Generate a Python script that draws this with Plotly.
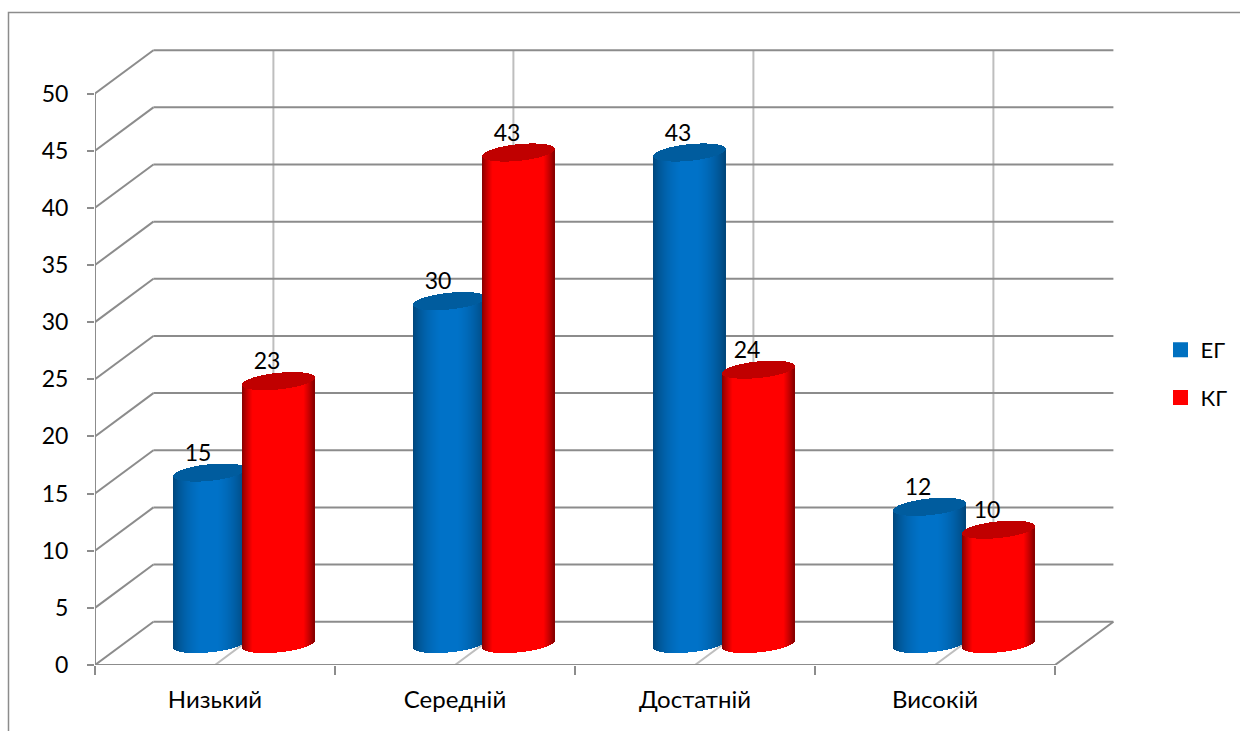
import math
import plotly.graph_objects as go

categories = ["Низький", "Середній", "Достатній", "Високій"]
eg_values = [15, 30, 43, 12]
kg_values = [23, 43, 24, 10]
y_ticks = [0, 5, 10, 15, 20, 25, 30, 35, 40, 45, 50]
series_names = ["ЕГ", "КГ"]

FONT = "Lato, Carlito, 'Noto Sans', sans-serif"
W, H = 1240, 731
L, R, T, B = 95, 1240, 49, 665      # plot box in pixels
PX_X = 240.0                        # pixels per category
PX_Y = 11.43                        # pixels per value unit
WALL_X, WALL_Y = 58.4 / PX_X, 43.3 / PX_Y
x_range = [-0.5, -0.5 + (R - L) / PX_X]
y_range = [0, (B - T) / PX_Y]

MID_X, MID_Y = 29.0 / PX_X, 21.0 / PX_Y     # cylinders sit half way into the floor
STEP = 69 / PX_X                            # distance between the two cylinders
A = 36 / PX_X                               # half width of a cylinder
E_B, E_K = 8.3 / PX_Y, 3.6 / PX_Y           # ellipse half height and tilt
STRIP = 1 / PX_X


def shade(rgb, t, floor, gain, power):
    f = min(1.0, floor + gain * math.sin(math.pi * t) ** power)
    return "rgb(%d,%d,%d)" % tuple(round(c * f) for c in rgb)


def cylinder_trace(center, value, rgb, cap, floor, gain, power):
    xs, bases, heights, colors = [], [], [], []
    n = int(round(2 * A / STRIP))
    base_y = MID_Y
    top_y = MID_Y + value
    # body strips then cap strips, all through the value axis
    for i in range(n):
        u = -1 + (i + 0.5) * 2 / n
        s = math.sqrt(1 - u * u)
        y0 = base_y - E_B * s + E_K * u
        y1 = top_y - E_B * s + E_K * u
        xs.append(center + u * A)
        bases.append(y0)
        heights.append(y1 - y0)
        colors.append(shade(rgb, (u + 1) / 2, floor, gain, power))
    for i in range(n):
        u = -1 + (i + 0.5) * 2 / n
        s = math.sqrt(1 - u * u)
        y0 = top_y - E_B * s + E_K * u
        y1 = top_y + E_B * s + E_K * u
        xs.append(center + u * A)
        bases.append(y0)
        heights.append(y1 - y0)
        colors.append(cap)
    return go.Bar(x=xs, y=heights, base=bases, width=STRIP * 1.02,
                  marker=dict(color=colors, line=dict(width=0)),
                  showlegend=False, hoverinfo="skip")


fig = go.Figure()

styles = [
    dict(rgb=(0, 114, 200), cap="#005C9E", floor=0.60, gain=0.42, power=0.75),
    dict(rgb=(255, 0, 0), cap="#C00000", floor=0.50, gain=0.95, power=0.8),
]
all_values = [eg_values, kg_values]

label_x, label_y, label_text = [], [], []
for s_idx, values in enumerate(all_values):
    sign = -0.5 if s_idx == 0 else 0.5
    for c_idx, v in enumerate(values):
        center = c_idx + MID_X + sign * STEP
        fig.add_trace(cylinder_trace(center, v, **styles[s_idx]))
        label_x.append(center - 11.5 / PX_X)
        label_y.append(MID_Y + v + 17.5 / PX_Y)
        label_text.append(str(v))

fig.add_trace(go.Scatter(x=label_x, y=label_y, text=label_text, mode="text",
                         textposition="middle center",
                         textfont=dict(family=FONT, size=23, color="#000000"),
                         showlegend=False, hoverinfo="skip"))

# legend keys
for name, col in zip(series_names, ["#0070C0", "#FF0000"]):
    fig.add_trace(go.Scatter(x=[None], y=[None], mode="markers", name=name,
                             legendgroup=name,
                             marker=dict(symbol="square", size=15, color=col)))

# 3D walls
GRID = "#8C8C8C"
GRID_V = "#BEBEBE"
shapes = []


def seg(x0, y0, x1, y1, color=GRID, width=2):
    shapes.append(dict(type="line", xref="x", yref="y", x0=x0, y0=y0, x1=x1, y1=y1,
                       layer="below", line=dict(color=color, width=width)))


left, right = -0.5, len(categories) - 0.5
for i in range(len(categories)):
    seg(i, 0, i + WALL_X, WALL_Y, GRID_V)
    seg(i + WALL_X, WALL_Y, i + WALL_X, 50 + WALL_Y, GRID_V)
for v in y_ticks:
    seg(left, v, left + WALL_X, v + WALL_Y)
    seg(left + WALL_X, v + WALL_Y, right + WALL_X, v + WALL_Y)
seg(left, 0, left, 50)
seg(left, 0, right, 0)
seg(right, 0, right + WALL_X, WALL_Y)

# outer chart frame, running off the right and bottom edges
px = lambda p: (p - L) / (R - L)
py = lambda p: (B - p) / (B - T)
shapes.append(dict(type="path", xref="paper", yref="paper", layer="below",
                   path="M %f %f L %f %f L %f %f" % (px(8.5), py(H + 5), px(8.5), py(12.5), px(W + 5), py(12.5)),
                   line=dict(color=GRID, width=1.5)))

fig.update_layout(
    width=W, height=H,
    margin=dict(l=L, r=W - R, t=T, b=H - B, pad=0),
    paper_bgcolor="#FFFFFF", plot_bgcolor="#FFFFFF",
    barmode="overlay", bargap=0, bargroupgap=0,
    shapes=shapes,
    font=dict(family=FONT, size=22, color="#000000"),
    showlegend=True,
    legend=dict(x=px(1160.5), y=py(329), xanchor="left", yanchor="top",
                tracegroupgap=16, font=dict(family=FONT, size=22),
                entrywidth=30, entrywidthmode="pixels",
                bgcolor="rgba(0,0,0,0)"),
    xaxis=dict(range=x_range, tickvals=list(range(len(categories))), ticktext=categories,
               ticks="", showgrid=False, zeroline=False, showline=False,
               ticklabelstandoff=18, automargin=False,
               tickfont=dict(family=FONT, size=24),
               minor=dict(tickvals=[i - 0.5 for i in range(len(categories) + 1)],
                          ticks="outside", ticklen=9, tickwidth=2, tickcolor=GRID)),
    yaxis=dict(range=y_range, tickvals=y_ticks, ticktext=[str(t) for t in y_ticks],
               ticks="outside", ticklen=7, tickwidth=2, tickcolor=GRID,
               ticklabelstandoff=14, automargin=False,
               showgrid=False, zeroline=False, showline=False,
               tickfont=dict(family=FONT, size=23)),
)

fig.write_html("out.html", post_script="document.body.style.margin='0';document.body.style.overflow='hidden';",
               config={"displayModeBar": False})
